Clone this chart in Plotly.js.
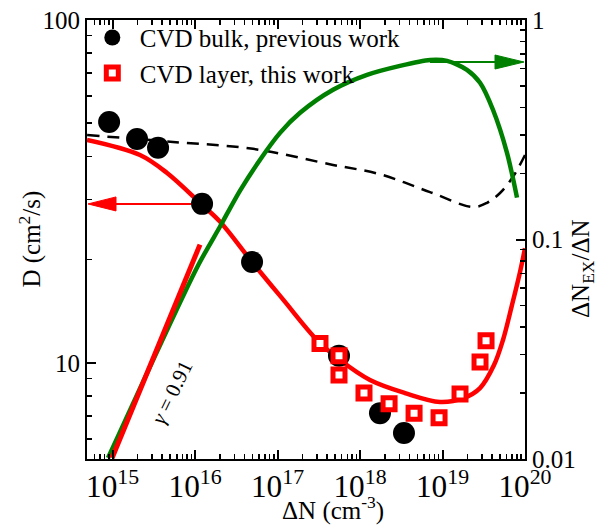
<!DOCTYPE html>
<html>
<head>
<meta charset="utf-8">
<script src="https://cdn.plot.ly/plotly-3.0.1.min.js"></script>
<style>
html,body{margin:0;padding:0;background:#fff;}
#chart{width:614px;height:530px;}
#chart svg text{font-family:"Liberation Serif","Times New Roman",serif !important;}
</style>
</head>
<body>
<div id="chart"></div>
<script>
// CVD bulk, previous work (black circles)
var bulkN = [9.08e14, 1.98e15, 3.56e15, 1.216e16, 4.91e16, 5.56e17, 1.746e18, 3.41e18];
var bulkD = [50.4, 45.0, 42.4, 29.1, 19.7, 10.5, 7.14, 6.25];
// CVD layer, this work (red open squares)
var layerN = [3.27e17, 5.56e17, 5.56e17, 1.117e18, 2.25e18, 4.52e18, 9.08e18, 1.63e19, 2.85e19, 3.37e19];
var layerD = [11.4, 10.5, 9.23, 8.18, 7.6, 7.14, 6.92, 8.12, 10.07, 11.6];
// red fit of D
var fitN = [4.9e14, 2.15e15, 4.58e15, 1.18e16, 2.01e16, 4.91e16, 1.17e17, 3.01e17, 5.73e17, 1.32e18, 3.51e18, 9.33e18, 1.82e19, 2.85e19, 4.21e19, 5.41e19, 6.95e19, 8.69e19, 1e20];
var fitD = [44.7, 40.4, 35.8, 29.1, 25.8, 19.7, 15.3, 11.67, 10.2, 8.92, 8.17, 7.70, 7.91, 8.45, 9.86, 11.67, 14.75, 18.4, 21.6];
// dashed curve (bulk D)
var dashN = [4.91e14, 5.41e15, 5.05e16, 4.71e17, 1.75e18, 7.05e18, 2.34e19, 3.46e19, 4.98e19, 7.16e19, 1e20];
var dashD = [46.2, 44.1, 42.1, 37.8, 35.5, 31.5, 28.5, 29.3, 31.3, 34.9, 40.4];
// exciton fraction dN_EX/dN (green, right axis)
var exN = [8.81e14, 1.057e16, 2.01e16, 3.51e16, 6.14e16, 1.072e17, 1.875e17, 4.71e17, 1.216e18, 3.05e18, 7.05e18, 1.135e19, 1.98e19, 2.85e19, 4.09e19, 6.05e19, 8.0e19];
var exR = [0.0101, 0.0746, 0.1146, 0.167, 0.231, 0.306, 0.3776, 0.4808, 0.5623, 0.618, 0.6577, 0.6516, 0.593, 0.5176, 0.39, 0.2483, 0.1552];
// power-law guide, gamma = 0.91 (right axis)
var gammaN = [9.86e14, 1.148e16];
var gammaR = [0.0101, 0.0948];

var FONT = 'Liberation Serif';

var traces = [
  {x: dashN, y: dashD, mode: 'lines', line: {color: 'black', width: 2.5, dash: '12px,8px', shape: 'spline'}, showlegend: false, hoverinfo: 'skip'},
  {x: exN, y: exR, yaxis: 'y2', mode: 'lines', line: {color: '#008000', width: 4.5, shape: 'spline', smoothing: 0.8}, showlegend: false},
  {x: gammaN, y: gammaR, yaxis: 'y2', mode: 'lines', line: {color: '#ff0000', width: 5}, showlegend: false},
  {x: fitN, y: fitD, mode: 'lines', line: {color: '#ff0000', width: 4.5, shape: 'spline'}, showlegend: false},
  {x: bulkN, y: bulkD, mode: 'markers', name: 'CVD bulk, previous work', marker: {symbol: 'circle', size: 22, color: 'black'}},
  {x: layerN, y: layerD, mode: 'markers', name: 'CVD layer, this work', marker: {symbol: 'square', size: 12, color: 'white', line: {color: '#ff0000', width: 5}}}
];

var layout = {
  width: 614, height: 530,
  margin: {l: 87, r: 89, t: 20, b: 71},
  paper_bgcolor: 'white', plot_bgcolor: 'white',
  font: {family: FONT, size: 24, color: 'black'},
  showlegend: true,
  legend: {x: -0.005, y: 1.012, xanchor: 'left', yanchor: 'top', bgcolor: 'rgba(0,0,0,0)', font: {family: FONT, size: 25}, tracegroupgap: 0, itemwidth: 45},
  xaxis: {
    type: 'log', range: [14.69, 20], dtick: 1, exponentformat: 'power',
    showgrid: false, zeroline: false, showline: true, linewidth: 2, linecolor: 'black', mirror: 'ticks',
    ticks: 'inside', ticklen: 9, tickwidth: 2, tickcolor: 'black',
    minor: {ticks: 'inside', ticklen: 5, tickwidth: 1.5, tickcolor: 'black', dtick: 'D1', showgrid: false},
    tickfont: {family: FONT, size: 25}
  },
  yaxis: {
    type: 'log', range: [0.72, 2], dtick: 1,
    showgrid: false, zeroline: false, showline: true, linewidth: 2, linecolor: 'black',
    ticks: 'inside', ticklen: 9, tickwidth: 2, tickcolor: 'black',
    minor: {ticks: 'inside', ticklen: 5, tickwidth: 1.5, tickcolor: 'black', dtick: 'D1', showgrid: false},
    tickfont: {family: FONT, size: 25}
  },
  yaxis2: {
    type: 'log', range: [-2, 0], dtick: 1, overlaying: 'y', side: 'right',
    showgrid: false, zeroline: false, showline: true, linewidth: 2, linecolor: 'black',
    ticks: 'inside', ticklen: 9, tickwidth: 2, tickcolor: 'black',
    minor: {ticks: 'inside', ticklen: 5, tickwidth: 1.5, tickcolor: 'black', dtick: 'D1', showgrid: false},
    tickfont: {family: FONT, size: 25}
  },
  shapes: [
    {type: 'line', xref: 'paper', yref: 'paper', x0: 0.01, x1: 0.2626, y0: 0.581, y1: 0.581, line: {color: '#ff0000', width: 2}, layer: 'below'},
    {type: 'path', xref: 'paper', yref: 'paper', xsizemode: 'pixel', ysizemode: 'pixel', xanchor: 0, yanchor: 0.581,
     path: 'M1,0 L29,7 L29,-7 Z', fillcolor: '#ff0000', line: {color: '#ff0000', width: 1}},
    {type: 'line', xref: 'paper', yref: 'paper', x0: 0.783, x1: 0.99, y0: 0.9043, y1: 0.9043, line: {color: '#008000', width: 2}, layer: 'below'},
    {type: 'path', xref: 'paper', yref: 'paper', xsizemode: 'pixel', ysizemode: 'pixel', xanchor: 1, yanchor: 0.9043,
     path: 'M-1,0 L-30,7 L-30,-7 Z', fillcolor: '#008000', line: {color: '#008000', width: 1}}
  ],
  annotations: [
    {xref: 'paper', yref: 'paper', x: 0.562, y: -0.112, xanchor: 'center', yanchor: 'middle', showarrow: false,
     text: '\u0394N (cm<sup>-3</sup>)', font: {family: FONT, size: 25}},
    {xref: 'paper', yref: 'paper', x: -0.13, y: 0.5, xanchor: 'center', yanchor: 'middle', showarrow: false, textangle: -90,
     text: 'D (cm<sup>2</sup>/s)', font: {family: FONT, size: 25}},
    {xref: 'paper', yref: 'paper', x: 1.13, y: 0.435, xanchor: 'center', yanchor: 'middle', showarrow: false, textangle: -90,
     text: '\u0394N<sub>EX</sub>/\u0394N', font: {family: FONT, size: 25}},
    {xref: 'paper', yref: 'paper', x: 0.194, y: 0.153, xanchor: 'center', yanchor: 'middle', showarrow: false, textangle: -64,
     text: '<i>\u03b3</i> = 0.91', font: {family: FONT, size: 21}}
  ]
};

Plotly.newPlot('chart', traces, layout, {displayModeBar: false, staticPlot: true});
</script>
</body>
</html>
